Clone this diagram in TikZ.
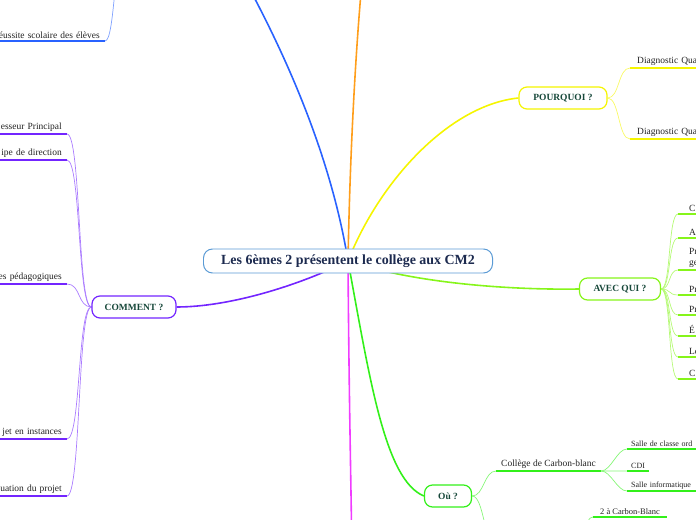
\documentclass[tikz,border=0pt]{standalone}
\usepackage{fontspec}
\setmainfont{Liberation Serif}
\usetikzlibrary{positioning, backgrounds}

\definecolor{rootline}{HTML}{5B9BD5}
\definecolor{rootink}{HTML}{1C2A4F}
\definecolor{topicink}{HTML}{17483A}
\definecolor{leafink}{HTML}{222222}
\definecolor{cblue}{HTML}{2962FF}
\definecolor{corange}{HTML}{FF9E1B}
\definecolor{cyellow}{HTML}{F5F500}
\definecolor{clime}{HTML}{86F51A}
\definecolor{cgreen}{HTML}{33F01A}
\definecolor{cmagenta}{HTML}{F03CFF}
\definecolor{cpurple}{HTML}{7325FF}

\begin{document}
\begin{tikzpicture}[
x=1bp, y=-1bp,
rootnode/.style={rectangle, rounded corners=9bp, draw=rootline, line width=1pt, fill=white, text=rootink, font=\bfseries\fontsize{14}{16}\selectfont, minimum width=289bp, minimum height=24bp, inner sep=0pt},
topic/.style={rectangle, rounded corners=8bp, draw=#1, line width=1.2pt, fill=white, text=topicink, font=\bfseries\fontsize{9.5}{11}\selectfont, minimum height=22bp, inner sep=0pt},
leaf/.style={inner xsep=5bp, inner ysep=2bp, text=leafink, font=\fontsize{9.5}{11}\selectfont},
small/.style={font=\fontsize{8}{9.5}\selectfont},
cutl/.style={anchor=south east, text width=130bp, align=right},
cutr/.style={anchor=south west, text width=130bp, align=left},
uline/.style={draw=#1, line width=1.6pt},
twig/.style={draw=#1!60, line width=0.7pt},
limb/.style={draw=#1, line width=1.6pt},
]
\useasboundingbox (0,0) rectangle (696,520);

\begin{scope}
\clip (0,0) rectangle (696,520);

\node[rootnode]               (root)  at (348,261)  {Les 6èmes 2 présentent le collège aux CM2};

\node[topic=cpurple, minimum width=84bp]  (how)    at (134,307)  {COMMENT ?};
\node[topic=cyellow, minimum width=88bp]  (why)    at (563,98)   {POURQUOI ?};
\node[topic=clime,   minimum width=81bp]  (who)    at (620,289)  {AVEC QUI ?};
\node[topic=cgreen,  minimum width=47bp]  (where)  at (448,496)  {Où ?};

% branches that run off the page
\coordinate (goal-e)  at (228,-50);
\coordinate (goal-w)  at (124,-50);
\coordinate (orng)    at (364,-40);
\coordinate (mag)     at (352,560);
\coordinate (ecole-w) at (496,545);
\coordinate (ecole-e) at (575,545);

\node[leaf, cutl]  (reussite)  at (105,41)   {éussite scolaire des élèves};

\node[leaf, cutl]  (prof)      at (67,134)   {esseur Principal};
\node[leaf, cutl]  (dir)       at (67,160)   {ipe de direction};
\node[leaf, cutl]  (peda)      at (67,284)   {es pédagogiques};
\node[leaf, cutl]  (inst)      at (67,439)   {jet en instances};
\node[leaf, cutl]  (eval)      at (67,496)   {uation du projet};

\node[leaf, cutr, inner xsep=7bp]  (diag1)  at (630,68)   {Diagnostic Qua};
\node[leaf, cutr, inner xsep=7bp]  (diag2)  at (630,139)  {Diagnostic Qua};

\node[leaf, cutr, inner xsep=11bp]  (w1)  at (678,214)  {C};
\node[leaf, cutr, inner xsep=11bp]  (w2)  at (678,238)  {A};
\node[leaf, cutr, inner xsep=11bp]  (w3)  at (678,270)  {Pr\\ge};
\node[leaf, cutr, inner xsep=11bp]  (w4)  at (678,295)  {Pr};
\node[leaf, cutr, inner xsep=11bp]  (w5)  at (678,315)  {Pr};
\node[leaf, cutr, inner xsep=11bp]  (w6)  at (678,336)  {É};
\node[leaf, cutr, inner xsep=11bp]  (w7)  at (678,357)  {Le};
\node[leaf, cutr, inner xsep=11bp]  (w8)  at (678,379)  {C};

\node[leaf, anchor=south west, font=\fontsize{9.5}{11}\selectfont]  (college)  at (496,471)  {Collège de Carbon-blanc};
\node[leaf, small, cutr, inner xsep=4bp]      (classe)  at (627,449)  {Salle de classe ord};
\node[leaf, small, anchor=south west, inner xsep=4bp]  (cdi)  [below=22bp of classe.south west, anchor=south west]  {CDI};
\node[leaf, small, cutr, inner xsep=4bp]      (info)    at (627,491)  {Salle informatique};

\node[leaf, anchor=south west, inner xsep=7bp, font=\fontsize{8.5}{10}\selectfont]  (carbon)  at (593,517)  {2 à Carbon-Blanc};
\end{scope}

\begin{pgfonlayer}{background}
\clip (0,0) rectangle (696,520);

\draw[limb=cblue]    (root.center) .. controls (330,150) and (280,40) .. (goal-e);
\draw[limb=corange]  (root.center) .. controls (350,150) and (356,40) .. (orng);
\draw[limb=cyellow]  (root.center) .. controls (380,180) and (450,105) .. (why.west);
\draw[limb=clime]    (root.center) .. controls (420,285) and (520,290) .. (who.west);
\draw[limb=cgreen]   (root.center) .. controls (370,380) and (385,480) .. (where.west);
\draw[limb=cmagenta] (root.center) .. controls (349,400) and (351,480) .. (mag);
\draw[limb=cpurple]  (root.center) .. controls (300,285) and (230,307) .. (how.east);

\draw[twig=cblue] (goal-w) .. controls +(-10,0) and +(10,0) .. (reussite.south east);
\draw[uline=cblue] (reussite.south west) -- (reussite.south east);

\foreach \leafname in {prof, dir, peda, inst, eval} {
  \draw[twig=cpurple] (how.west) .. controls +(-14,0) and +(14,0) .. (\leafname.south east);
  \draw[uline=cpurple] (\leafname.south west) -- (\leafname.south east);
}

\foreach \leafname in {diag1, diag2} {
  \draw[twig=cyellow] (why.east) .. controls +(12,0) and +(-12,0) .. (\leafname.south west);
  \draw[uline=cyellow] (\leafname.south west) -- (\leafname.south east);
}

\foreach \leafname in {w1, w2, w3, w4, w5, w6, w7, w8} {
  \draw[twig=clime] (who.east) .. controls +(10,0) and +(-10,0) .. (\leafname.south west);
  \draw[uline=clime] (\leafname.south west) -- (\leafname.south east);
}

\draw[twig=cgreen] (where.east) .. controls +(12,0) and +(-12,0) .. (college.south west);
\draw[twig=cgreen] (where.east) .. controls +(12,0) and +(-12,0) .. (ecole-w);
\draw[uline=cgreen] (college.south west) -- (college.south east);
\draw[uline=cgreen] (ecole-w) -- (ecole-e);

\foreach \leafname in {classe, cdi, info} {
  \draw[twig=cgreen] (college.south east) .. controls +(10,0) and +(-10,0) .. (\leafname.south west);
  \draw[uline=cgreen] (\leafname.south west) -- (\leafname.south east);
}

\draw[twig=cgreen] (ecole-e) .. controls +(9,0) and +(-9,0) .. (carbon.south west);
\draw[uline=cgreen] (carbon.south west) -- (carbon.south east);
\end{pgfonlayer}

\end{tikzpicture}
\end{document}
